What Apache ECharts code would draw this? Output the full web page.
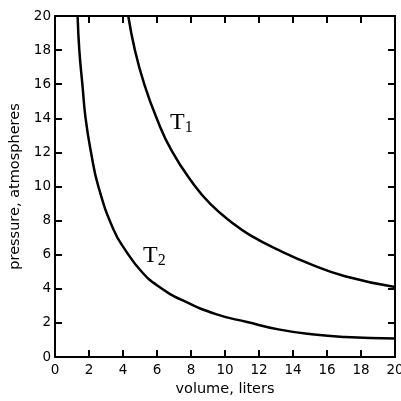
<!DOCTYPE html>
<html>
<head>
<meta charset="utf-8">
<script src="https://cdn.jsdelivr.net/npm/echarts@6/dist/echarts.min.js"></script>
<style>
html,body{margin:0;padding:0;background:#fff;}
#c{width:401px;height:401px;}
</style>
</head>
<body>
<div id="c"></div>
<script>
var xTicks = [0, 2, 4, 6, 8, 10, 12, 14, 16, 18, 20];
var yTicks = [0, 2, 4, 6, 8, 10, 12, 14, 16, 18, 20];
// isotherm T1 (volume, pressure)
var t1Volume = [4.31, 4.7, 5.25, 5.98, 6.86, 8.14, 9.12, 10.49, 11.47, 13.14, 15.1, 17.06, 20];
var t1Pressure = [20, 18, 16, 14, 12.1, 10.15, 9.0, 7.82, 7.15, 6.28, 5.42, 4.74, 4.1];
// isotherm T2 (volume, pressure)
var t2Volume = [1.33, 1.43, 1.61, 1.80, 2.12, 2.55, 3.43, 4.12, 5.1, 6.08, 7.55, 9.51, 11.3, 13.14, 15.1, 17.06, 20];
var t2Pressure = [20, 18, 16, 14, 12, 10, 7.5, 6.3, 5.0, 4.15, 3.3, 2.5, 2.05, 1.62, 1.33, 1.17, 1.08];

function pairs(xs, ys) { return xs.map(function (x, i) { return [x, ys[i]]; }); }

var FONT = 'DejaVu Sans';
var chart = echarts.init(document.getElementById('c'), null, {renderer: 'canvas'});
var axisLine = {show: true, onZero: false, lineStyle: {color: '#000', width: 2}};
var tick = {show: true, inside: true, length: 7, lineStyle: {color: '#000', width: 2}};
chart.setOption({
  animation: false,
  backgroundColor: '#fff',
  grid: {left: 55, right: 6, top: 16, bottom: 44, containLabel: false, outerBoundsMode: 'none'},
  xAxis: [{
    type: 'value', min: 0, max: 20, interval: 2, position: 'bottom',
    axisLine: axisLine, axisTick: tick, splitLine: {show: false},
    axisLabel: {color: '#000', fontFamily: FONT, fontSize: 13.5, margin: 6,
      formatter: function (v) { return xTicks.indexOf(v) >= 0 ? String(v) : ''; }},
    name: 'volume, liters', nameLocation: 'middle', nameGap: 24,
    nameTextStyle: {color: '#000', fontFamily: FONT, fontSize: 14.5}
  }, {
    type: 'value', min: 0, max: 20, interval: 2, position: 'top',
    axisLine: axisLine, axisTick: tick, splitLine: {show: false}, axisLabel: {show: false}
  }],
  yAxis: [{
    type: 'value', min: 0, max: 20, interval: 2, position: 'left',
    axisLine: axisLine, axisTick: tick, splitLine: {show: false},
    axisLabel: {color: '#000', fontFamily: FONT, fontSize: 13.5, margin: 4,
      formatter: function (v) { return yTicks.indexOf(v) >= 0 ? String(v) : ''; }},
    name: 'pressure, atmospheres', nameLocation: 'middle', nameGap: 31,
    nameTextStyle: {color: '#000', fontFamily: FONT, fontSize: 14.5}
  }, {
    type: 'value', min: 0, max: 20, interval: 2, position: 'right',
    axisLine: axisLine, axisTick: tick, splitLine: {show: false}, axisLabel: {show: false}
  }],
  series: [{
    name: 'T1', type: 'line', data: pairs(t1Volume, t1Pressure),
    smooth: 0.5, showSymbol: false, clip: true,
    lineStyle: {color: '#000', width: 2.5}
  }, {
    name: 'T2', type: 'line', data: pairs(t2Volume, t2Pressure),
    smooth: 0.5, showSymbol: false, clip: true,
    lineStyle: {color: '#000', width: 2.5}
  }],
  graphic: [{
    type: 'text', left: 170, top: 111,
    style: {text: '{a|T}{b|1}', rich: {
      a: {fontFamily: 'Liberation Serif', fontSize: 24, fill: '#000'},
      b: {fontFamily: 'Liberation Serif', fontSize: 16, fill: '#000', verticalAlign: 'bottom', padding: [10, 0, 0, 0]}
    }}
  }, {
    type: 'text', left: 143, top: 244,
    style: {text: '{a|T}{b|2}', rich: {
      a: {fontFamily: 'Liberation Serif', fontSize: 24, fill: '#000'},
      b: {fontFamily: 'Liberation Serif', fontSize: 16, fill: '#000', verticalAlign: 'bottom', padding: [10, 0, 0, 0]}
    }}
  }]
});
</script>
</body>
</html>
